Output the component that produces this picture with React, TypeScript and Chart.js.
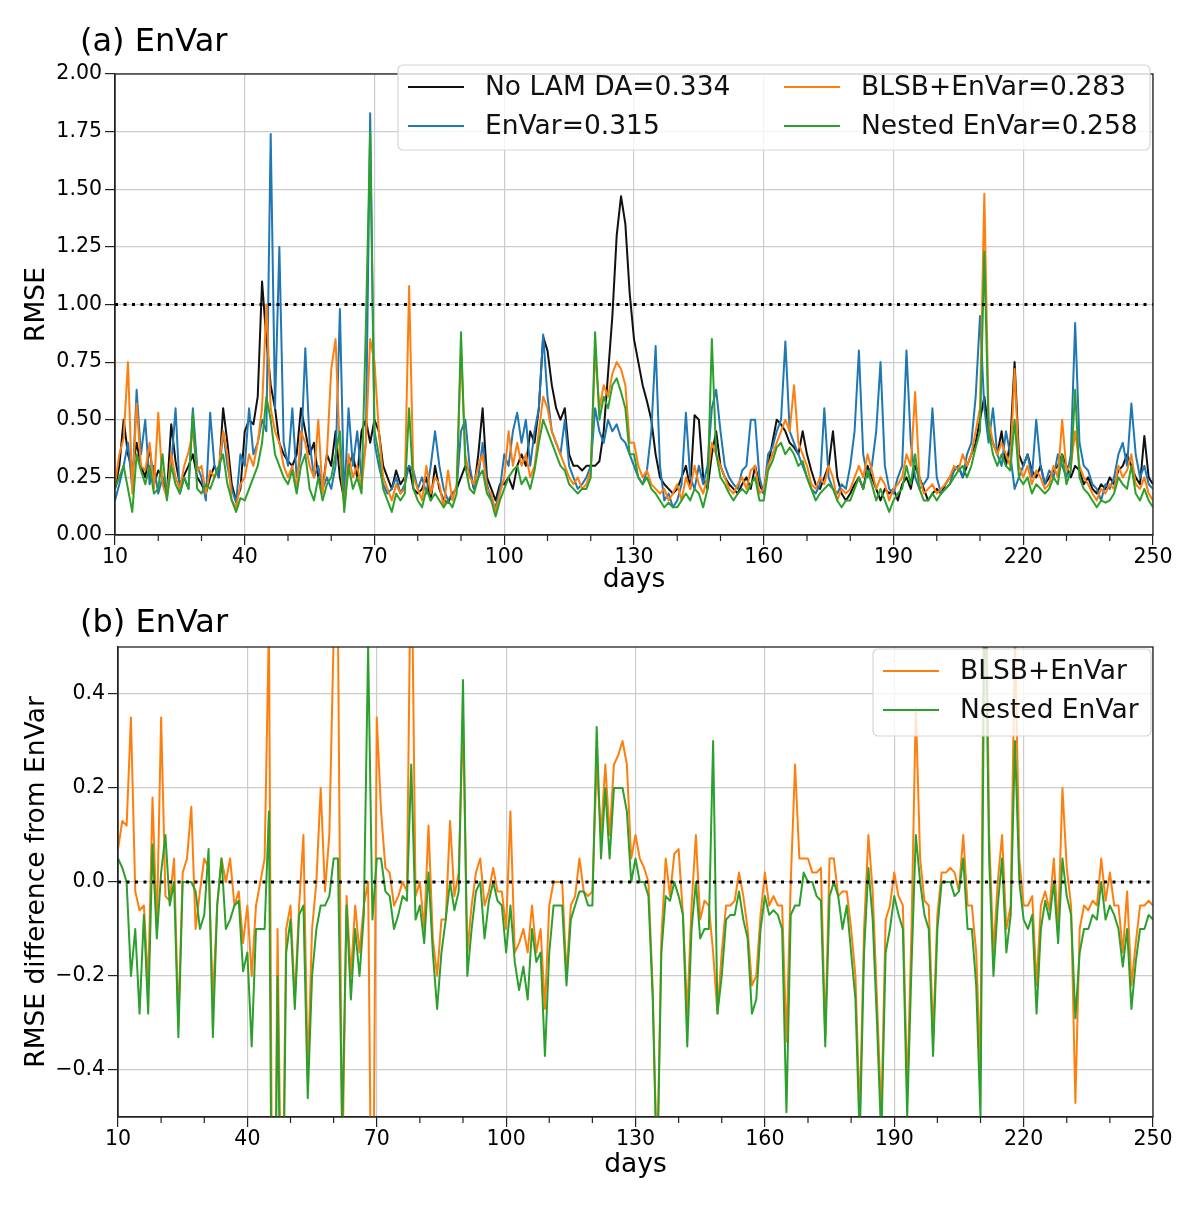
import React, { useEffect, useRef } from 'react';
import { Chart, registerables } from 'chart.js';

Chart.register(...registerables);

const FONT = "'DejaVu Sans', sans-serif";
Chart.defaults.font.family = FONT;
Chart.defaults.color = '#000';

// one value per day, days 10..250
const firstDay = 10;
const lastDay = 250;
const days = Array.from({ length: lastDay - firstDay + 1 }, (_, i) => firstDay + i);

const noLamDA = [
  0.20, 0.30, 0.50, 0.35, 0.28, 0.40, 0.30, 0.25, 0.38, 0.22,
  0.28, 0.25, 0.18, 0.48, 0.32, 0.22, 0.26, 0.30, 0.35, 0.25,
  0.22, 0.18, 0.25, 0.30, 0.25, 0.55, 0.40, 0.22, 0.15, 0.20,
  0.45, 0.50, 0.48, 0.60, 1.10, 0.85, 0.65, 0.55, 0.40, 0.35,
  0.32, 0.30, 0.35, 0.55, 0.45, 0.35, 0.40, 0.25, 0.20, 0.35,
  0.30, 0.45, 0.25, 0.15, 0.30, 0.35, 0.25, 0.45, 0.50, 0.40,
  0.50, 0.45, 0.30, 0.25, 0.20, 0.28, 0.22, 0.25, 0.30, 0.20,
  0.18, 0.20, 0.25, 0.15, 0.30, 0.20, 0.15, 0.14, 0.18, 0.20,
  0.25, 0.30, 0.28, 0.20, 0.35, 0.55, 0.25, 0.20, 0.15, 0.22,
  0.22, 0.25, 0.20, 0.30, 0.35, 0.30, 0.45, 0.40, 0.55, 0.86,
  0.80, 0.65, 0.55, 0.50, 0.55, 0.35, 0.30, 0.30, 0.28, 0.30,
  0.30, 0.30, 0.32, 0.45, 0.70, 0.95, 1.30, 1.47, 1.35, 1.05,
  0.85, 0.75, 0.65, 0.58, 0.50, 0.35, 0.25, 0.22, 0.20, 0.18,
  0.20, 0.25, 0.30, 0.20, 0.52, 0.50, 0.25, 0.20, 0.35, 0.45,
  0.30, 0.25, 0.22, 0.20, 0.18, 0.22, 0.25, 0.20, 0.30, 0.22,
  0.18, 0.30, 0.40, 0.50, 0.48, 0.45, 0.40, 0.38, 0.35, 0.45,
  0.35, 0.28, 0.22, 0.20, 0.25, 0.30, 0.45, 0.25, 0.18, 0.15,
  0.18, 0.22, 0.25, 0.20, 0.30, 0.25, 0.20, 0.15, 0.20, 0.18,
  0.20, 0.15, 0.22, 0.25, 0.20, 0.30, 0.25, 0.20, 0.15, 0.18,
  0.20, 0.18, 0.22, 0.25, 0.28, 0.30, 0.25, 0.30, 0.35, 0.40,
  0.50, 0.60, 0.45, 0.40, 0.35, 0.45, 0.30, 0.40, 0.75, 0.35,
  0.30, 0.35, 0.28, 0.25, 0.30, 0.22, 0.25, 0.28, 0.30, 0.35,
  0.30, 0.25, 0.30, 0.28, 0.22, 0.25, 0.20, 0.18, 0.22, 0.20,
  0.25, 0.22, 0.28, 0.30, 0.35, 0.30, 0.25, 0.22, 0.43, 0.25, 0.22,
];

const enVar = [
  0.15, 0.22, 0.30, 0.40, 0.20, 0.63, 0.35, 0.50, 0.22, 0.30,
  0.18, 0.25, 0.20, 0.30, 0.55, 0.18, 0.25, 0.20, 0.55, 0.30,
  0.25, 0.15, 0.53, 0.30, 0.25, 0.45, 0.30, 0.20, 0.14, 0.35,
  0.30, 0.55, 0.35, 0.40, 0.50, 0.45, 1.74, 0.55, 1.25, 0.40,
  0.30, 0.55, 0.25, 0.35, 0.81, 0.40, 0.25, 0.30, 0.20, 0.25,
  0.20, 0.30, 0.98, 0.15, 0.55, 0.30, 0.45, 0.25, 0.40, 1.83,
  0.40, 0.30, 0.22, 0.18, 0.20, 0.25, 0.18, 0.22, 0.30, 0.28,
  0.20, 0.25, 0.18, 0.30, 0.45, 0.30, 0.20, 0.15, 0.18, 0.20,
  0.45, 0.50, 0.30, 0.20, 0.25, 0.40, 0.22, 0.15, 0.12, 0.20,
  0.35, 0.30, 0.45, 0.53, 0.40, 0.50, 0.30, 0.45, 0.55, 0.87,
  0.60, 0.45, 0.40, 0.35, 0.50, 0.30, 0.25, 0.20, 0.22, 0.25,
  0.30, 0.55, 0.45, 0.40, 0.50, 0.45, 0.48, 0.42, 0.40, 0.35,
  0.30, 0.25, 0.22, 0.28, 0.45, 0.82, 0.30, 0.15, 0.18, 0.12,
  0.15, 0.22, 0.53, 0.25, 0.20, 0.30, 0.22, 0.30, 0.55, 0.63,
  0.45, 0.30, 0.25, 0.22, 0.20, 0.28, 0.30, 0.50, 0.50, 0.25,
  0.18, 0.35, 0.38, 0.45, 0.50, 0.84, 0.45, 0.40, 0.35, 0.30,
  0.25, 0.20, 0.18, 0.22, 0.55, 0.25, 0.20, 0.18, 0.22, 0.20,
  0.30, 0.45, 0.80, 0.35, 0.25, 0.30, 0.45, 0.75, 0.30, 0.20,
  0.18, 0.25, 0.30, 0.80, 0.40, 0.25, 0.20, 0.22, 0.25, 0.55,
  0.25, 0.18, 0.20, 0.22, 0.28, 0.30, 0.25, 0.35, 0.40, 0.60,
  0.95, 0.55, 0.40, 0.55, 0.35, 0.30, 0.45, 0.35, 0.20, 0.25,
  0.30, 0.35, 0.25, 0.50, 0.30, 0.22, 0.28, 0.25, 0.35, 0.30,
  0.25, 0.35, 0.92, 0.40, 0.30, 0.28, 0.22, 0.20, 0.15, 0.22,
  0.20, 0.25, 0.35, 0.40, 0.30, 0.57, 0.35, 0.25, 0.30, 0.22, 0.20,
];

const blsbEnVar = [
  0.22, 0.35, 0.42, 0.75, 0.18, 0.57, 0.30, 0.28, 0.40, 0.20,
  0.53, 0.22, 0.16, 0.35, 0.25, 0.20, 0.30, 0.36, 0.45, 0.28,
  0.30, 0.18, 0.28, 0.25, 0.30, 0.45, 0.35, 0.15, 0.12, 0.22,
  0.25, 0.35, 0.30, 0.40, 0.55, 1.00, 0.55, 0.45, 0.40, 0.30,
  0.25, 0.30, 0.20, 0.45, 0.40, 0.30, 0.25, 0.50, 0.18, 0.35,
  0.72, 0.85, 0.35, 0.12, 0.35, 0.25, 0.30, 0.20, 0.40, 0.85,
  0.75, 0.45, 0.25, 0.20, 0.15, 0.22, 0.18, 0.20, 1.08, 0.25,
  0.20, 0.15, 0.30, 0.18, 0.25, 0.22, 0.12, 0.28, 0.15, 0.22,
  0.80, 0.35, 0.25, 0.22, 0.30, 0.35, 0.20, 0.18, 0.10, 0.18,
  0.25, 0.45, 0.30, 0.40, 0.30, 0.35, 0.25, 0.30, 0.45, 0.60,
  0.55, 0.45, 0.40, 0.35, 0.30, 0.25, 0.22, 0.25, 0.20, 0.22,
  0.28, 0.80, 0.55, 0.65, 0.60, 0.70, 0.75, 0.72, 0.65, 0.40,
  0.40, 0.30, 0.25, 0.28, 0.22, 0.20, 0.18, 0.20, 0.15, 0.18,
  0.22, 0.15, 0.25, 0.20, 0.30, 0.22, 0.18, 0.25, 0.40, 0.35,
  0.30, 0.25, 0.20, 0.18, 0.22, 0.25, 0.20, 0.28, 0.30, 0.18,
  0.20, 0.30, 0.35, 0.40, 0.45, 0.50, 0.45, 0.65, 0.40, 0.35,
  0.30, 0.22, 0.20, 0.25, 0.22, 0.30, 0.25, 0.15, 0.20, 0.18,
  0.20, 0.25, 0.30, 0.25, 0.35, 0.28, 0.20, 0.25, 0.22, 0.15,
  0.20, 0.22, 0.25, 0.35, 0.30, 0.62, 0.25, 0.18, 0.20, 0.22,
  0.18, 0.20, 0.22, 0.25, 0.30, 0.28, 0.35, 0.30, 0.35, 0.45,
  0.55, 1.48, 0.50, 0.40, 0.35, 0.40, 0.35, 0.30, 0.72, 0.30,
  0.25, 0.30, 0.22, 0.28, 0.25, 0.20, 0.22, 0.30, 0.25, 0.50,
  0.28, 0.30, 0.45, 0.30, 0.25, 0.22, 0.18, 0.15, 0.20, 0.18,
  0.22, 0.20, 0.30, 0.25, 0.28, 0.35, 0.22, 0.20, 0.25, 0.18, 0.15,
];

const nestedEnVar = [
  0.20, 0.25, 0.30, 0.20, 0.10, 0.35, 0.28, 0.22, 0.30, 0.18,
  0.20, 0.35, 0.15, 0.30, 0.22, 0.18, 0.25, 0.20, 0.53, 0.20,
  0.18, 0.22, 0.20, 0.25, 0.30, 0.35, 0.22, 0.15, 0.10, 0.16,
  0.15, 0.20, 0.25, 0.30, 0.40, 0.60, 0.50, 0.35, 0.30, 0.25,
  0.22, 0.28, 0.18, 0.30, 0.35, 0.20, 0.15, 0.25, 0.15, 0.22,
  0.25, 0.35, 0.45, 0.10, 0.30, 0.20, 0.25, 0.18, 0.90, 1.75,
  0.45, 0.35, 0.20, 0.15, 0.10, 0.18, 0.15, 0.18, 0.55, 0.20,
  0.15, 0.12, 0.20, 0.15, 0.18, 0.15, 0.12, 0.15, 0.12, 0.18,
  0.88, 0.30, 0.20, 0.18, 0.25, 0.28, 0.18, 0.15, 0.08, 0.15,
  0.20, 0.25, 0.28, 0.30, 0.22, 0.25, 0.20, 0.28, 0.40, 0.50,
  0.45, 0.40, 0.35, 0.30, 0.28, 0.22, 0.20, 0.18, 0.20, 0.20,
  0.25, 0.88, 0.50, 0.60, 0.55, 0.65, 0.68, 0.62, 0.55, 0.35,
  0.35, 0.25, 0.22, 0.25, 0.20, 0.18, 0.15, 0.12, 0.14, 0.12,
  0.12, 0.15, 0.18, 0.15, 0.20, 0.18, 0.12, 0.20, 0.85, 0.35,
  0.25, 0.22, 0.18, 0.15, 0.18, 0.20, 0.18, 0.22, 0.25, 0.15,
  0.15, 0.28, 0.32, 0.38, 0.40, 0.35, 0.38, 0.35, 0.30, 0.32,
  0.25, 0.20, 0.15, 0.18, 0.20, 0.22, 0.20, 0.15, 0.12, 0.15,
  0.15, 0.20, 0.25, 0.20, 0.28, 0.22, 0.15, 0.20, 0.15, 0.10,
  0.15, 0.18, 0.20, 0.30, 0.22, 0.35, 0.20, 0.15, 0.15, 0.18,
  0.15, 0.18, 0.20, 0.22, 0.25, 0.28, 0.30, 0.25, 0.30, 0.38,
  0.45, 1.23, 0.45, 0.35, 0.30, 0.35, 0.30, 0.28, 0.50, 0.25,
  0.22, 0.25, 0.18, 0.22, 0.20, 0.18, 0.20, 0.25, 0.22, 0.35,
  0.22, 0.28, 0.63, 0.25, 0.20, 0.18, 0.15, 0.12, 0.15, 0.14,
  0.15, 0.18, 0.25, 0.22, 0.20, 0.30, 0.18, 0.15, 0.20, 0.15, 0.12,
];

const seriesLabels = ['No LAM DA=0.334', 'EnVar=0.315', 'BLSB+EnVar=0.283', 'Nested EnVar=0.258'];
const diffLabels = ['BLSB+EnVar', 'Nested EnVar'];

const refDays = [10, 250];
const refTop = [1, 1];
const refBottom = [0, 0];

const xMajorTicks = [10, 40, 70, 100, 130, 160, 190, 220, 250];
const xMinorTicks = [20, 30, 50, 60, 80, 90, 110, 120, 140, 150, 170, 180, 200, 210, 230, 240];
const yTicksTop = [0, 0.25, 0.5, 0.75, 1, 1.25, 1.5, 1.75, 2];
const yTicksBottom = [-0.4, -0.2, 0, 0.2, 0.4];

const BLACK = '#111111';
const BLUE = '#1f77b4';
const ORANGE = '#ff7f0e';
const GREEN = '#2ca02c';

// differences from EnVar, built from the series above
const blsbMinusEnVar = blsbEnVar.map((v, i) => v - enVar[i]);
const nestedMinusEnVar = nestedEnVar.map((v, i) => v - enVar[i]);

const toPoints = (xs: number[], ys: number[]) => xs.map((x, i) => ({ x, y: ys[i] }));

const seriesLine = (label: string, values: number[], color: string) => ({
  label,
  data: toPoints(days, values),
  borderColor: color,
  backgroundColor: color,
  borderWidth: 2,
  pointRadius: 0,
  tension: 0,
  borderJoinStyle: 'round' as const,
});

const refLine = (values: number[]) => ({
  label: 'ref',
  data: toPoints(refDays, values),
  borderColor: '#000',
  borderWidth: 3,
  borderDash: [3, 5.5],
  pointRadius: 0,
});

const xScale = (height: number) => ({
  type: 'linear' as const,
  min: 10,
  max: 250,
  afterBuildTicks: (s: any) => {
    s.ticks = xMajorTicks.map((v) => ({ value: v }));
  },
  afterFit: (s: any) => {
    s.height = height;
  },
  ticks: { color: '#000', font: { size: 20.5 }, padding: 0, maxRotation: 0, autoSkip: false, callback: (v: any) => String(v) },
  grid: { color: '#cccccc', lineWidth: 1.2, tickLength: 10, tickColor: '#222', tickWidth: 1.2 },
  border: { display: true, color: '#222', width: 1.3 },
  title: { display: true, text: 'days', color: '#000', font: { size: 26.5 }, padding: 0 },
});

const yScale = (min: number, max: number, ticks: number[], fmt: (v: number) => string, width: number, label: string) => ({
  type: 'linear' as const,
  min,
  max,
  afterBuildTicks: (s: any) => {
    s.ticks = ticks.map((v) => ({ value: v }));
  },
  afterFit: (s: any) => {
    s.width = width;
  },
  ticks: { color: '#000', font: { size: 20.5 }, padding: 3, callback: (v: any) => fmt(Number(v)) },
  grid: { color: '#cccccc', lineWidth: 1.2, tickLength: 10, tickColor: '#222', tickWidth: 1.2 },
  border: { display: true, color: '#222', width: 1.3 },
  title: { display: true, text: label, color: '#000', font: { size: 26.5 }, padding: 0 },
});

interface LegendItem {
  label: string;
  color: string;
  x: number;
  y: number;
}

// frame, minor ticks, panel title and legend
const makeDecor = (title: string, titleBaseline: number, box: number[], items: LegendItem[]) => ({
  id: 'decor',
  afterDraw(chart: any) {
    const { ctx, chartArea: a, scales } = chart;
    ctx.save();
    ctx.strokeStyle = '#222';
    ctx.lineWidth = 1.2;
    ctx.beginPath();
    xMinorTicks.forEach((v) => {
      const px = scales.x.getPixelForValue(v);
      ctx.moveTo(px, a.bottom);
      ctx.lineTo(px, a.bottom + 6);
    });
    ctx.stroke();
    ctx.lineWidth = 1.3;
    ctx.strokeRect(a.left, a.top, a.right - a.left, a.bottom - a.top);

    ctx.fillStyle = '#000';
    ctx.font = `32px ${FONT}`;
    ctx.textAlign = 'left';
    ctx.textBaseline = 'alphabetic';
    ctx.fillText(title, 80, titleBaseline);

    const [bx, by, bw, bh] = box;
    ctx.beginPath();
    ctx.roundRect(bx, by, bw, bh, 5);
    ctx.fillStyle = 'rgba(255,255,255,0.8)';
    ctx.fill();
    ctx.strokeStyle = '#d5d5d5';
    ctx.lineWidth = 1.2;
    ctx.stroke();

    ctx.font = `26.5px ${FONT}`;
    ctx.textBaseline = 'middle';
    items.forEach((it) => {
      ctx.strokeStyle = it.color;
      ctx.lineWidth = 2;
      ctx.beginPath();
      ctx.moveTo(it.x, it.y);
      ctx.lineTo(it.x + 56, it.y);
      ctx.stroke();
      ctx.fillStyle = '#111';
      ctx.fillText(it.label, it.x + 77, it.y + 1);
    });
    ctx.restore();
  },
});

const baseOptions = {
  responsive: false,
  maintainAspectRatio: false,
  animation: false as const,
  events: [] as any[],
  plugins: { legend: { display: false }, tooltip: { enabled: false } },
};

export default function App() {
  const topRef = useRef<HTMLCanvasElement | null>(null);
  const bottomRef = useRef<HTMLCanvasElement | null>(null);

  useEffect(() => {
    document.body.style.margin = '0';
    if (!topRef.current || !bottomRef.current) return;

    const top = new Chart(topRef.current, {
      type: 'line',
      data: {
        datasets: [
          refLine(refTop),
          seriesLine(seriesLabels[3], nestedEnVar, GREEN),
          seriesLine(seriesLabels[2], blsbEnVar, ORANGE),
          seriesLine(seriesLabels[1], enVar, BLUE),
          seriesLine(seriesLabels[0], noLamDA, BLACK),
        ] as any,
      },
      options: {
        ...baseOptions,
        layout: { padding: { left: 21, right: 47, top: 74, bottom: 4 } },
        scales: {
          x: xScale(61),
          y: yScale(0, 2, yTicksTop, (v) => v.toFixed(2), 94, 'RMSE'),
        },
      } as any,
      plugins: [
        makeDecor('(a) EnVar', 51, [398, 65, 752, 85], [
          { label: seriesLabels[0], color: BLACK, x: 408, y: 87 },
          { label: seriesLabels[1], color: BLUE, x: 408, y: 126 },
          { label: seriesLabels[2], color: ORANGE, x: 784, y: 87 },
          { label: seriesLabels[3], color: GREEN, x: 784, y: 126 },
        ]),
      ],
    });

    const bottom = new Chart(bottomRef.current, {
      type: 'line',
      data: {
        datasets: [
          refLine(refBottom),
          seriesLine(diffLabels[1], nestedMinusEnVar, GREEN),
          seriesLine(diffLabels[0], blsbMinusEnVar, ORANGE),
        ] as any,
      },
      options: {
        ...baseOptions,
        layout: { padding: { left: 21, right: 47, top: 47, bottom: 26 } },
        scales: {
          x: xScale(64),
          y: yScale(-0.5, 0.5, yTicksBottom, (v) => (v < -1e-9 ? '\u2212' + Math.abs(v).toFixed(1) : Math.abs(v).toFixed(1)), 97, 'RMSE difference from EnVar'),
        },
      } as any,
      plugins: [
        makeDecor('(b) EnVar', 32, [873, 49, 278, 87], [
          { label: diffLabels[0], color: ORANGE, x: 883, y: 71 },
          { label: diffLabels[1], color: GREEN, x: 883, y: 110 },
        ]),
      ],
    });

    return () => {
      top.destroy();
      bottom.destroy();
    };
  }, []);

  return (
    <div style={{ width: 1200, height: 1207, background: '#fff' }}>
      <canvas ref={topRef} width={1200} height={600} style={{ display: 'block' }} />
      <canvas ref={bottomRef} width={1200} height={607} style={{ display: 'block' }} />
    </div>
  );
}
